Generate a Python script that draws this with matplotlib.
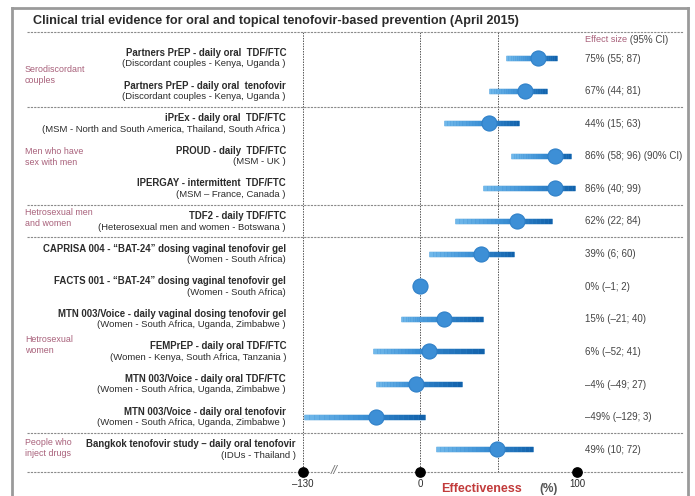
import numpy as np
import matplotlib
matplotlib.use("Agg")
import matplotlib.pyplot as plt
from matplotlib.collections import LineCollection
from matplotlib.colors import LinearSegmentedColormap

plt.rcParams['font.family'] = ['Liberation Sans', 'DejaVu Sans']

# data
trials = [
    "Partners PrEP - daily oral  TDF/FTC",
    "Partners PrEP - daily oral  tenofovir",
    "iPrEx - daily oral  TDF/FTC",
    "PROUD - daily  TDF/FTC",
    "IPERGAY - intermittent  TDF/FTC",
    "TDF2 - daily TDF/FTC",
    "CAPRISA 004 - \u201cBAT-24\u201d dosing vaginal tenofovir gel",
    "FACTS 001 - \u201cBAT-24\u201d dosing vaginal tenofovir gel",
    "MTN 003/Voice - daily vaginal dosing tenofovir gel",
    "FEMPrEP - daily oral TDF/FTC",
    "MTN 003/Voice - daily oral TDF/FTC",
    "MTN 003/Voice - daily oral tenofovir",
    "Bangkok tenofovir study \u2013 daily oral tenofovir",
]
populations = [
    "(Discordant couples - Kenya, Uganda )",
    "(Discordant couples - Kenya, Uganda )",
    "(MSM - North and South America, Thailand, South Africa )",
    "(MSM - UK )",
    "(MSM \u2013 France, Canada )",
    "(Heterosexual men and women - Botswana )",
    "(Women - South Africa)",
    "(Women - South Africa)",
    "(Women - South Africa, Uganda, Zimbabwe )",
    "(Women - Kenya, South Africa, Tanzania )",
    "(Women - South Africa, Uganda, Zimbabwe )",
    "(Women - South Africa, Uganda, Zimbabwe )",
    "(IDUs - Thailand )",
]
effect = [75, 67, 44, 86, 86, 62, 39, 0, 15, 6, -4, -49, 49]
ci_low = [55, 44, 15, 58, 40, 22, 6, -1, -21, -52, -49, -129, 10]
ci_high = [87, 81, 63, 96, 99, 84, 60, 2, 40, 41, 27, 3, 72]
effect_labels = [
    "75% (55; 87)", "67% (44; 81)", "44% (15; 63)", "86% (58; 96) (90% CI)",
    "86% (40; 99)", "62% (22; 84)", "39% (6; 60)", "0% (\u20131; 2)",
    "15% (\u201321; 40)", "6% (\u201352; 41)", "\u20134% (\u201349; 27)",
    "\u201349% (\u2013129; 3)", "49% (10; 72)",
]
groups = ["Serodiscordant\ncouples", "Men who have\nsex with men",
          "Hetrosexual men\nand women", "Hetrosexual\nwomen",
          "People who\ninject drugs"]
group_rows = [(0, 1), (2, 4), (5, 5), (6, 11), (12, 12)]
xticks = [-130, 0, 100]
grid_x = [-130, 0, 50, 100]

W, H = 695, 496
mauve = "#a8607a"
dark = "#2b2b2b"
grey = "#8a8a8a"
# layout (pixels)
group_label_y = [75, 157, 218, 345, 448]
label_right = [286] * 12 + [296]


def fx(p):
    return p / W


def fy(p):
    return 1 - p / H


# negative side of the axis is compressed (axis break)
def fwd(x):
    x = np.asarray(x, dtype=float)
    return np.where(x < 0, x * 0.573, x)


def inv(x):
    x = np.asarray(x, dtype=float)
    return np.where(x < 0, x / 0.573, x)


fig = plt.figure(figsize=(W / 100, H / 100), dpi=100)
ax = fig.add_axes([fx(303), fy(472), fx(577) - fx(303), (472 - 32) / H])
ax.set_xscale('function', functions=(fwd, inv))
ax.set_xlim(-130, 100)
row0, rstep = 58, 32.6
ax.set_ylim((472 - row0) / rstep, (32 - row0) / rstep)
ax.axis('off')

# border
for seg in [([12, 12], [496, 8]), ([12, 688], [8, 8]), ([688, 688], [8, 496])]:
    fig.add_artist(plt.Line2D([fx(v) for v in seg[0]], [fy(v) for v in seg[1]],
                              color="#9a9a9a", lw=2))

fig.text(fx(33), fy(21), "Clinical trial evidence for oral and topical tenofovir-based prevention (April 2015)",
         fontsize=9.1, fontweight='bold', color=dark, va='center', ha='left')

# vertical grid
for gx in grid_x:
    ax.axvline(gx, color="#555555", lw=0.7, ls=(0, (1.5, 1.2)), zorder=1)

# horizontal separators
x0 = (27 - 303) / 274
x1 = (683 - 303) / 274
ylo, yhi = ax.get_ylim()
seps = [ylo, yhi] + [(a[1] + b[0]) / 2 for a, b in zip(group_rows[:-1], group_rows[1:])]
for s in seps:
    ax.axhline(s, xmin=x0, xmax=x1, color=grey, lw=0.8, ls=(0, (2, 1)), clip_on=False, zorder=1)

# CI bars with gradient + point estimate
cmap = LinearSegmentedColormap.from_list("b", ["#70b8ea", "#3b8fd4", "#1262ab"])
rows = np.arange(len(trials))
for r, e, lo, hi in zip(rows, effect, ci_low, ci_high):
    ax.plot([lo, hi], [r, r], color="#3b8fd4", lw=3.8, solid_capstyle='butt', zorder=2)
    xs = np.linspace(lo, hi, 25)
    segs = [[(xs[i], r), (xs[i + 1], r)] for i in range(len(xs) - 1)]
    lc = LineCollection(segs, colors=cmap(np.linspace(0, 1, len(segs))), linewidths=3.8,
                        capstyle='butt', zorder=3)
    ax.add_collection(lc)
ax.scatter(effect, rows, s=118, color="#3d8fd6", edgecolor="#2f80c8", linewidth=0.8, zorder=4)

# axis dots and labels
ax.scatter(xticks, [ylo] * len(xticks), s=45, color='black', zorder=5, clip_on=False)
for t in xticks:
    ax.text(t, ylo + 0.37, str(t).replace("-", "\u2013"), ha='center', va='center',
            fontsize=7, color=dark)
fig.text(fx(334), fy(471), "//", fontsize=9, color="#777777", ha='center', va='center',
         fontstyle='italic', bbox=dict(facecolor='white', edgecolor='none', pad=0.3))
fig.text(fx(481), fy(489), "Effectiveness", fontsize=9, fontweight='bold', color="#c23b3b",
         ha='center', va='center')
fig.text(fx(549), fy(489), "(%)", fontsize=8.5, fontweight='bold', color="#555555",
         ha='center', va='center')

# trial labels, effect labels
for r in rows:
    y = row0 + rstep * r
    fig.text(fx(label_right[r]), fy(y - 5), trials[r], fontsize=6.9, fontweight='bold',
             color=dark, ha='right', va='center')
    fig.text(fx(label_right[r]), fy(y + 6), populations[r], fontsize=6.8, color=dark,
             ha='right', va='center')
    fig.text(fx(585), fy(y + 0.5), effect_labels[r], fontsize=7, color="#444444",
             ha='left', va='center')

es = fig.text(fx(585), fy(40), "Effect size", fontsize=6.6, color=mauve, ha='left', va='center')
ax.annotate(" (95% CI)", xy=(1, 0.5), xycoords=es, fontsize=7, color="#444444",
            ha='left', va='center', annotation_clip=False)

for g, gy in zip(groups, group_label_y):
    fig.text(fx(25), fy(gy), g, fontsize=6.4, color=mauve, ha='left', va='center',
             linespacing=1.15)

fig.savefig("out.png", dpi=100)
